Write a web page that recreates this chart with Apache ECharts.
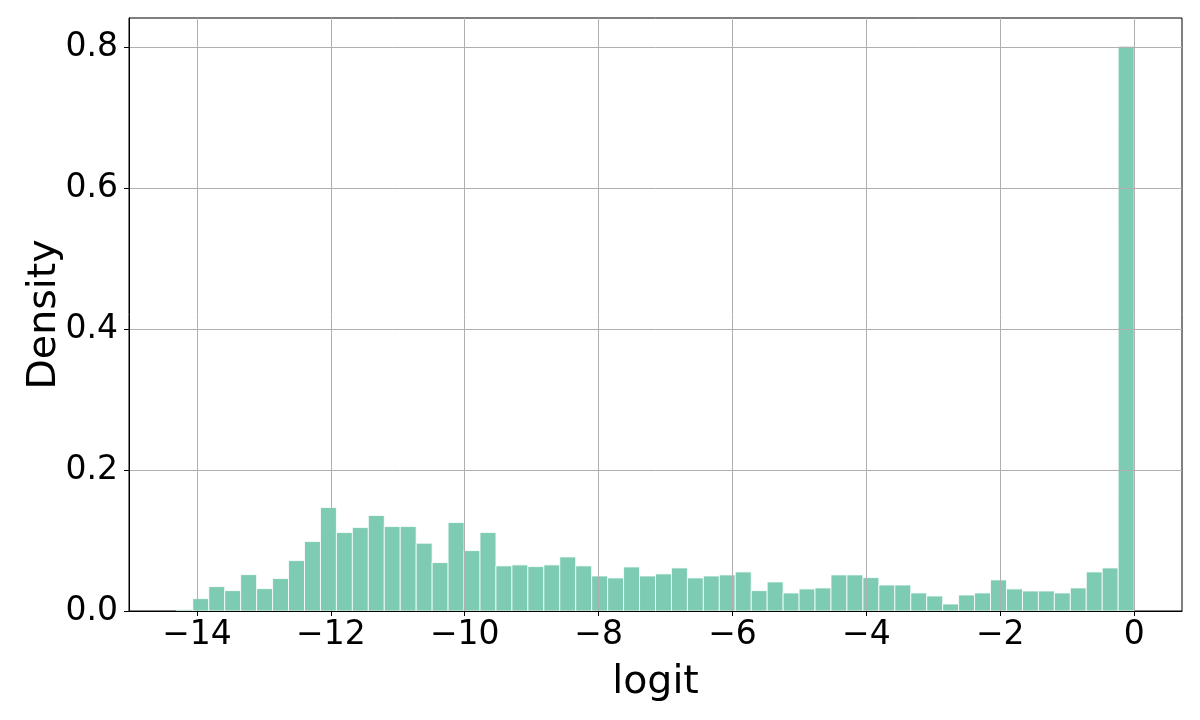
<!DOCTYPE html>
<html>
<head>
<meta charset="utf-8">
<title>logit density</title>
<script src="https://cdn.jsdelivr.net/npm/echarts@6/dist/echarts.min.js"></script>
<style>
  html, body { margin: 0; padding: 0; background: #fff; }
  #chart { width: 1200px; height: 720px; }
</style>
</head>
<body>
<div id="chart"></div>
<script>
// histogram bins: 60 equal bins from binStart to 0
const binStart = -14.3
const binCount = 60
const binWidth = -binStart / binCount

// density per bin, left to right
const density = [
  0.002, 0.0175, 0.0346, 0.0289, 0.0516, 0.0317, 0.046, 0.0715, 0.0985, 0.1468,
  0.1113, 0.1184, 0.1355, 0.1198, 0.1198, 0.0962, 0.0687, 0.1255, 0.0857, 0.1113,
  0.064, 0.0654, 0.063, 0.0654, 0.0767, 0.064, 0.0497, 0.0469, 0.0625, 0.0497,
  0.0526, 0.0611, 0.0469, 0.0497, 0.0512, 0.0554, 0.0289, 0.0412, 0.0256, 0.0313,
  0.0327, 0.0512, 0.0512, 0.0474, 0.0369, 0.0369, 0.0256, 0.0213, 0.0099, 0.0227,
  0.0256, 0.0441, 0.0313, 0.0284, 0.0284, 0.0256, 0.0327, 0.0554, 0.0611, 0.8014,
]

const xTicks = [-14, -12, -10, -8, -6, -4, -2, 0]
const yTicks = [0, 0.2, 0.4, 0.6, 0.8]

const font = "DejaVu Sans"
const barColor = "#7dcbb2"
const gridColor = "#b0b0b0"

const bins = density.map((d, i) => [
  binStart + i * binWidth,
  binStart + (i + 1) * binWidth,
  d,
])

const option = {
  animation: false,
  backgroundColor: "#fff",
  grid: {
    left: 129,
    right: 18,
    top: 18,
    bottom: 109,
    show: true,
    borderColor: "#000",
    borderWidth: 1,
    backgroundColor: "transparent",
  },
  xAxis: {
    type: "value",
    min: -15.015,
    max: 0.715,
    z: 5,
    name: "logit",
    nameLocation: "middle",
    nameGap: 52,
    nameMoveOverlap: false,
    nameTextStyle: { fontFamily: font, fontSize: 39.5, color: "#000" },
    axisLine: { show: true, onZero: false, lineStyle: { color: "#000", width: 1 } },
    axisTick: {
      show: true,
      inside: false,
      length: 5,
      customValues: xTicks,
      lineStyle: { color: "#000", width: 1 },
    },
    axisLabel: {
      customValues: xTicks,
      margin: 8,
      fontFamily: font,
      fontSize: 33,
      color: "#000",
      formatter: (v) => (v < 0 ? "\u2212" : "") + Math.abs(v),
    },
    splitLine: { show: true, lineStyle: { color: gridColor, width: 1 } },
  },
  yAxis: {
    type: "value",
    min: 0,
    max: 0.8415,
    z: 5,
    name: "Density",
    nameLocation: "middle",
    nameGap: 64,
    nameRotate: 90,
    nameMoveOverlap: false,
    nameTextStyle: { fontFamily: font, fontSize: 39.5, color: "#000" },
    axisLine: { show: true, onZero: false, lineStyle: { color: "#000", width: 1 } },
    axisTick: {
      show: true,
      inside: false,
      length: 5,
      customValues: yTicks,
      lineStyle: { color: "#000", width: 1 },
    },
    axisLabel: {
      customValues: yTicks,
      margin: 11,
      fontFamily: font,
      fontSize: 33,
      color: "#000",
      formatter: (v) => v.toFixed(1),
    },
    splitLine: { show: true, lineStyle: { color: gridColor, width: 1 } },
  },
  series: [
    {
      type: "custom",
      z: 2,
      data: bins,
      encode: { x: [0, 1], y: 2 },
      renderItem: (params, api) => {
        const p0 = api.coord([api.value(0), 0])
        const p1 = api.coord([api.value(1), api.value(2)])
        return {
          type: "rect",
          shape: {
            x: p0[0],
            y: p1[1],
            width: p1[0] - p0[0],
            height: p0[1] - p1[1],
          },
          style: { fill: barColor, stroke: "#fff", lineWidth: 0.8 },
        }
      },
    },
  ],
}

const chart = echarts.init(document.getElementById("chart"))
chart.setOption(option)
</script>
</body>
</html>
